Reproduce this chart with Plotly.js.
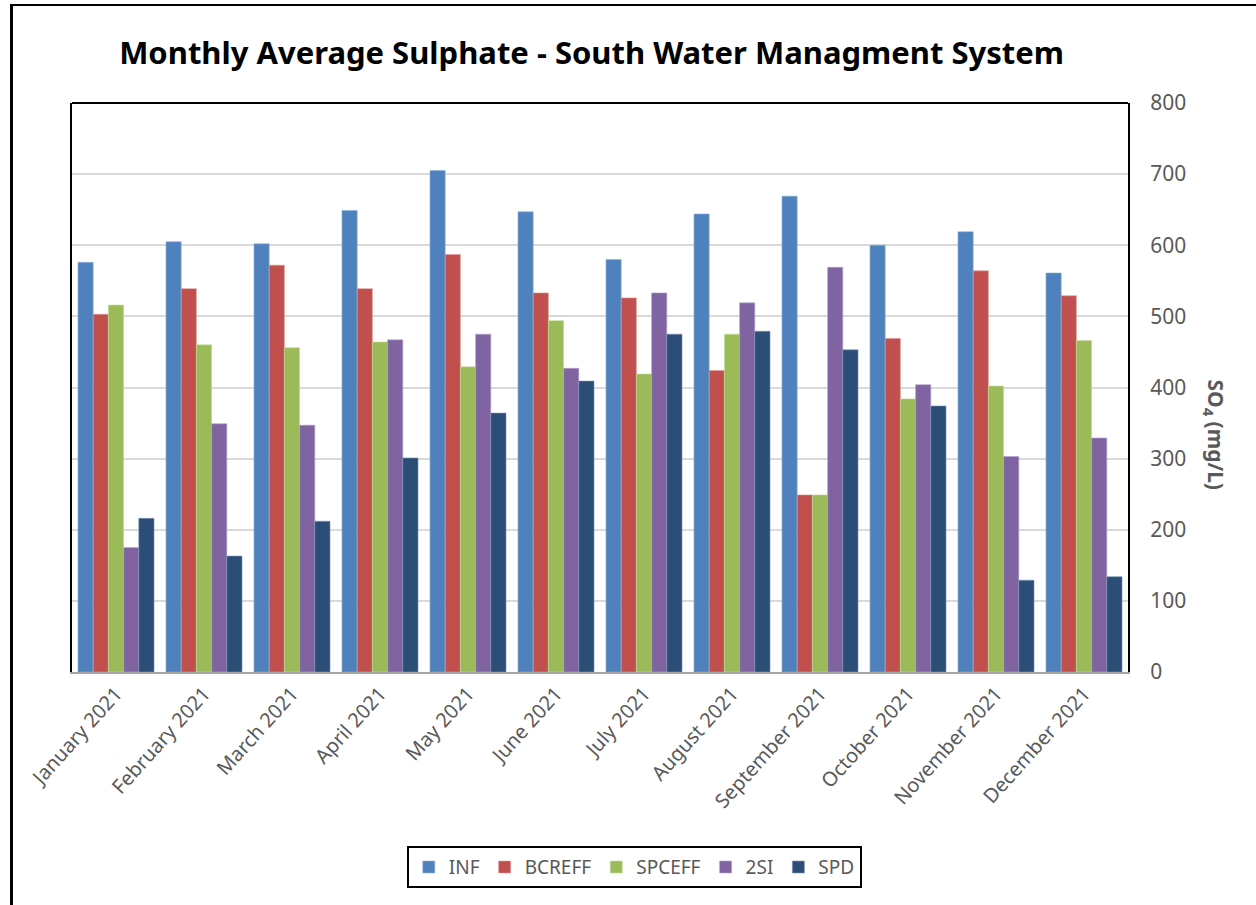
<!DOCTYPE html>
<html>
<head>
<meta charset="utf-8">
<script src="https://cdn.plot.ly/plotly-3.0.1.min.js"></script>
<style>
  html, body { margin: 0; padding: 0; width: 1256px; height: 905px; overflow: hidden; background: #fff; }
  #frame { position: absolute; left: 10px; top: 4px; width: 1400px; height: 1000px; border-top: 2px solid #000; border-left: 3px solid #000; box-sizing: border-box; pointer-events: none; z-index: 5; }
  #chart { position: absolute; left: 0; top: 0; width: 1256px; height: 905px; }
</style>
</head>
<body>
<div id="chart"></div>
<div id="frame"></div>
<script>
const months = ["January 2021", "February 2021", "March 2021", "April 2021", "May 2021", "June 2021",
                "July 2021", "August 2021", "September 2021", "October 2021", "November 2021", "December 2021"];
const INF    = [576, 605, 602, 649, 705, 647, 580, 644, 669, 600, 619, 561];
const BCREFF = [503, 539, 572, 539, 587, 533, 526, 424, 249, 469, 564, 529];
const SPCEFF = [516, 460, 456, 464, 429, 494, 419, 475, 249, 384, 402, 466];
const SI2    = [175, 349, 347, 467, 475, 427, 533, 519, 569, 404, 303, 329];
const SPD    = [216, 163, 212, 301, 364, 409, 475, 479, 453, 374, 129, 134];
const seriesNames = ["INF", "BCREFF", "SPCEFF", "2SI", "SPD"];
const yTicks = [0, 100, 200, 300, 400, 500, 600, 700, 800];

const colors = ["#4F81BD", "#C0504D", "#9BBB59", "#8064A2", "#2C4D75"];
const edge = ["#8fb0dc", "#e09a98", "#c6dc9a", "#b5a3cf", "#7d93b5"];
const values = [INF, BCREFF, SPCEFF, SI2, SPD];

const traces = values.map((v, i) => ({
  type: "bar",
  name: seriesNames[i],
  x: months,
  y: v,
  marker: { color: colors[i], line: { color: edge[i], width: 0.6 } },
  hoverinfo: "x+y+name"
}));

const grayText = "#595959";
const layout = {
  width: 1256,
  height: 905,
  paper_bgcolor: "#ffffff",
  plot_bgcolor: "#ffffff",
  margin: { l: 72, r: 128, t: 103, b: 233 },
  barmode: "group",
  bargap: 0.136,
  bargroupgap: 0,
  title: {
    text: "Monthly Average Sulphate - South Water Managment System",
    font: { family: "Noto Sans, sans-serif", size: 31, color: "#000", weight: "bold" },
    x: 0.471, xref: "container", xanchor: "center",
    y: 0.941, yref: "container", yanchor: "middle"
  },
  xaxis: {
    type: "category",
    tickangle: -48,
    tickfont: { family: "Noto Sans, sans-serif", size: 20, color: grayText },
    showline: true, linecolor: "#a6a6a6", linewidth: 2,
    ticks: "", showgrid: false, zeroline: false,
    automargin: false
  },
  yaxis: {
    side: "right",
    range: [0, 800],
    tickvals: yTicks,
    ticktext: yTicks.map(String),
    tickfont: { family: "Noto Sans, sans-serif", size: 21, color: grayText },
    ticklabelstandoff: 16,
    showline: true, mirror: true, linecolor: "#000", linewidth: 2,
    showgrid: true, gridcolor: "#d9d9d9", gridwidth: 2,
    zeroline: false, ticks: "",
    automargin: false
  },
  legend: {
    orientation: "h",
    xref: "container", yref: "container",
    x: 0.505, xanchor: "center",
    y: 0.065, yanchor: "top",
    bordercolor: "#000", borderwidth: 2,
    bgcolor: "#fff",
    font: { family: "Noto Sans, sans-serif", size: 19, color: grayText },
    itemwidth: 30,
    tracegroupgap: 0
  },
  shapes: [
    { type: "line", xref: "paper", yref: "paper", x0: 0, x1: 1, y0: 1, y1: 1, line: { color: "#000", width: 2 } }
  ],
  annotations: [
    {
      text: "<b>SO<sub>4</sub> (mg/L)</b>",
      xref: "paper", yref: "paper",
      x: 1, xshift: 87, y: 0.5, yshift: -47,
      xanchor: "center", yanchor: "middle",
      textangle: 90, showarrow: false,
      font: { family: "Noto Sans, sans-serif", size: 21, color: grayText }
    }
  ]
};

Plotly.newPlot("chart", traces, layout, { displayModeBar: false, staticPlot: true });
</script>
</body>
</html>
